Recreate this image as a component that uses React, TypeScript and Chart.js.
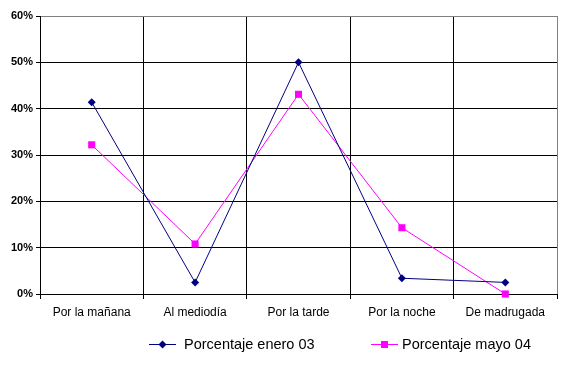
import React, { useEffect, useRef } from "react";
import { Chart, registerables } from "chart.js";

Chart.register(...registerables);

const categories = ["Por la mañana", "Al mediodía", "Por la tarde", "Por la noche", "De madrugada"];
const enero03 = [0.414, 0.025, 0.5, 0.034, 0.025];
const mayo04 = [0.322, 0.108, 0.431, 0.143, 0.0];
const seriesNames = ["Porcentaje enero 03", "Porcentaje mayo 04"];
const yTicks = [0, 0.1, 0.2, 0.3, 0.4, 0.5, 0.6];

const NAVY = "#000080";
const MAGENTA = "#FF00FF";

const legendPlugin = {
  id: "customLegend",
  afterDraw(chart: any) {
    const ctx = chart.ctx;
    ctx.save();
    const items = [
      { x: 149, tx: 184, label: seriesNames[0], color: NAVY, style: "diamond" },
      { x: 371, tx: 402, label: seriesNames[1], color: MAGENTA, style: "square" },
    ];
    const y = 344.5;
    ctx.font = "14.5px 'Liberation Sans', Arial, sans-serif";
    ctx.textBaseline = "middle";
    items.forEach((it) => {
      ctx.strokeStyle = it.color;
      ctx.lineWidth = 1;
      ctx.beginPath();
      ctx.moveTo(it.x, y);
      ctx.lineTo(it.x + 27, y);
      ctx.stroke();
      ctx.fillStyle = it.color;
      const cx = it.x + 13.5;
      if (it.style === "diamond") {
        ctx.beginPath();
        ctx.moveTo(cx, y - 4);
        ctx.lineTo(cx + 4, y);
        ctx.lineTo(cx, y + 4);
        ctx.lineTo(cx - 4, y);
        ctx.closePath();
        ctx.fill();
      } else {
        ctx.fillRect(cx - 3.5, y - 3.5, 7, 7);
      }
      ctx.fillStyle = "#000";
      ctx.fillText(it.label, it.tx, y);
    });
    ctx.restore();
  },
};

export default function App() {
  const ref = useRef<HTMLCanvasElement>(null);
  useEffect(() => {
    if (!ref.current) return;
    const chart = new Chart(ref.current, {
      type: "line",
      data: {
        labels: categories,
        datasets: [
          {
            label: seriesNames[0],
            data: enero03,
            borderColor: NAVY,
            backgroundColor: NAVY,
            borderWidth: 1,
            pointStyle: "rectRot",
            pointRadius: 4,
            pointBorderWidth: 0,
            pointBackgroundColor: NAVY,
            tension: 0,
            clip: false as any,
          },
          {
            label: seriesNames[1],
            data: mayo04,
            borderColor: MAGENTA,
            backgroundColor: MAGENTA,
            borderWidth: 1,
            pointStyle: "rect",
            pointRadius: 5,
            pointBorderWidth: 0,
            pointBackgroundColor: MAGENTA,
            tension: 0,
            clip: false as any,
          },
        ],
      },
      options: {
        responsive: false,
        animation: false,
        layout: { padding: { top: 16, right: 5, left: 0, bottom: 0 } },
        plugins: { legend: { display: false }, tooltip: { enabled: false } },
        scales: {
          x: {
            type: "category",
            offset: true,
            grid: {
              offset: true,
              color: (c: any) => (c.type === "tick" ? "#000" : "#808080"),
              tickColor: "#000",
              tickLength: 5,
              lineWidth: 1,
            },
            border: { color: "#000", width: 1 },
            ticks: {
              color: "#000",
              font: { family: "'Liberation Sans', Arial, sans-serif", size: 12 },
              padding: 6,
              maxRotation: 0,
              autoSkip: false,
            },
            afterFit: (s: any) => {
              s.height = 74;
            },
          },
          y: {
            min: 0,
            max: 0.6,
            afterBuildTicks: (s: any) => {
              s.ticks = yTicks.map((v) => ({ value: v }));
            },
            grid: {
              color: (c: any) => (c.tick && c.tick.value >= 0.599 ? "#808080" : "#000"),
              tickColor: "#000",
              tickLength: 4,
              lineWidth: 1,
            },
            border: { color: "#000", width: 1 },
            ticks: {
              color: "#000",
              font: { family: "'Liberation Sans', Arial, sans-serif", size: 11, weight: "bold" },
              padding: 3,
              callback: (v: any) => Math.round(Number(v) * 100) + "%",
            },
            afterFit: (s: any) => {
              s.width = 40;
            },
          },
        },
      },
      plugins: [legendPlugin],
    });
    return () => chart.destroy();
  }, []);
  return (
    <div style={{ position: "absolute", left: 0, top: 0, width: 562, height: 368, background: "#fff" }}>
      <canvas ref={ref} width={562} height={368} style={{ width: 562, height: 368 }} />
    </div>
  );
}
